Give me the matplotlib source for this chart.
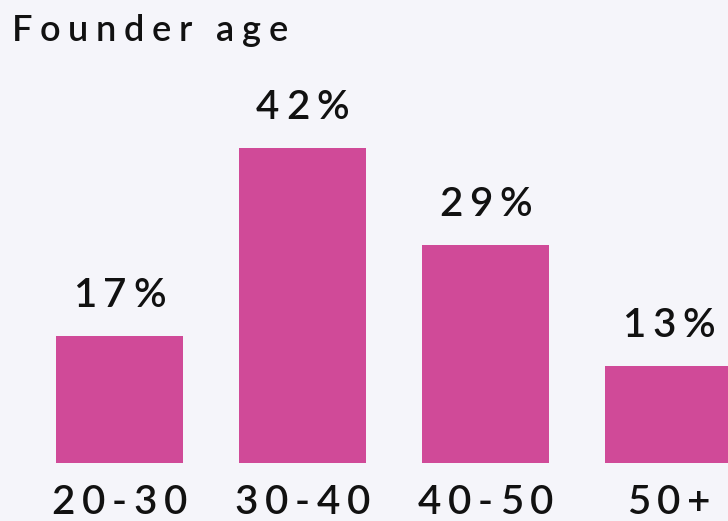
import matplotlib
matplotlib.use("Agg")
import matplotlib.pyplot as plt
from matplotlib import font_manager
from matplotlib.font_manager import FontProperties
from matplotlib.ft2font import FT2Font

# data
title = "Founder age"
categories = ["20-30", "30-40", "40-50", "50+"]
shares = [17, 42, 29, 13]

BG = "#f5f5fa"
BAR = "#d04a98"
INK = "#111111"
DPI = 100

fig = plt.figure(figsize=(7.28, 5.21), dpi=DPI, facecolor=BG)
ax = fig.add_axes([0, 0, 1, 1])
ax.set_facecolor(BG)

xs = list(range(len(categories)))
ax.bar(xs, shares, width=0.694, color=BAR)
ax.set_xlim(-0.653, 3.325)
ax.set_ylim(-7.73, 61.73)
ax.axis("off")


def advances(s, fp):
    # advance widths in pixels for each character
    font = FT2Font(font_manager.findfont(fp))
    font.set_size(fp.get_size_in_points(), DPI)
    out = []
    for ch in s:
        g = font.load_char(ord(ch))
        out.append(g.linearHoriAdvance / 65536)
    return out


def spaced(xy, xycoords, s, size, track, dy=0, ha="center", dx=0):
    # draw text with letter spacing (track in em)
    fp = FontProperties(family="Lato", size=size, weight="semibold")
    adv = advances(s, fp)
    gap = track * size * DPI / 72
    total = sum(adv) + gap * (len(s) - 1)
    x0 = dx - total / 2 if ha == "center" else dx
    for ch, a in zip(s, adv):
        if ch != " ":
            ax.annotate(ch, xy=xy, xycoords=xycoords, xytext=(x0, dy),
                        textcoords="offset pixels", ha="left", va="baseline",
                        fontproperties=fp, color=INK, annotation_clip=False)
        x0 += a + gap


for x, v, c in zip(xs, shares, categories):
    spaced((x, v), "data", f"{v}%", 29, 0.17, dy=29)
    spaced((x, 0), "data", c, 29, 0.17, dy=-51)

spaced((0, 1), "figure fraction", title, 26, 0.21, dy=-41, ha="left", dx=12)

fig.savefig("out.png", dpi=DPI, facecolor=BG)
